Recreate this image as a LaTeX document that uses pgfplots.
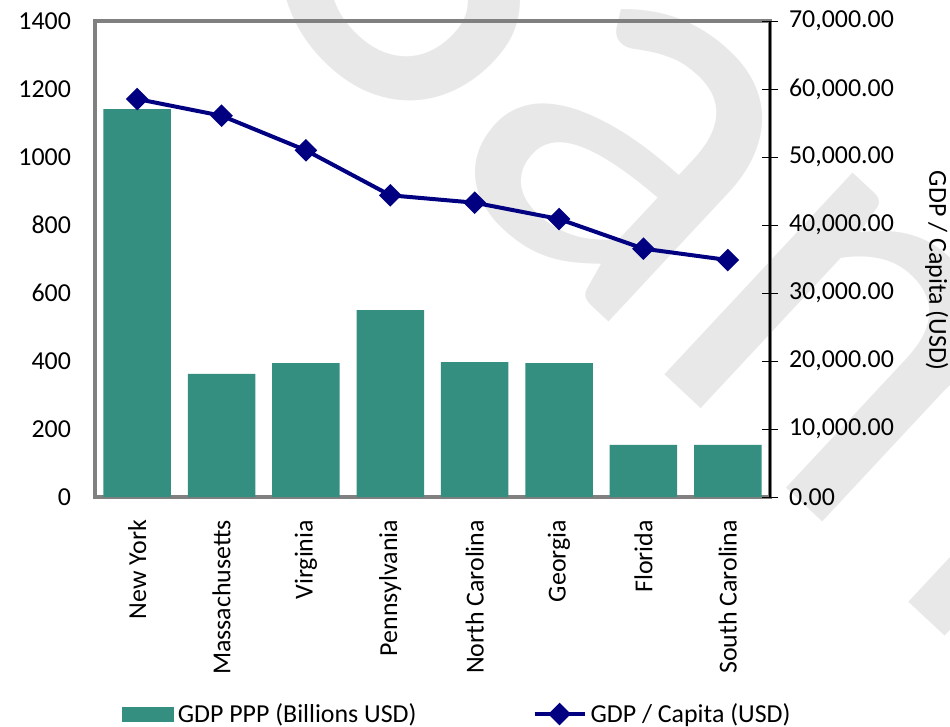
\documentclass[border=0pt]{standalone}
\usepackage{fontspec}
\setmainfont{Carlito}
\usepackage{pgfplots}
\pgfplotsset{compat=1.18}
\definecolor{barteal}{RGB}{52,143,128}
\definecolor{linenavy}{RGB}{0,0,128}
\definecolor{wm}{RGB}{232,232,232}
\definecolor{bordergray}{RGB}{128,128,128}
\begin{document}
\begin{tikzpicture}
\node[overlay, text=wm, rotate=-43, font=\fontsize{290}{300}\selectfont, inner sep=0pt] at (440bp,22bp) {Sample};
\begin{axis}[
  at={(0,0)}, anchor=south west,
  scale only axis, width=337.5bp, height=238bp,
  xmin=-0.5, xmax=7.5, ymin=0, ymax=1400,
  ytick={0,200,...,1400},
  xtick={0,...,7},
  xticklabels={New York,Massachusetts,Virginia,Pennsylvania,North Carolina,Georgia,Florida,South Carolina},
  font=\fontsize{13}{15}\selectfont,
  /pgf/number format/assume math mode=true,
  /pgf/number format/1000 sep={},
  xticklabel style={yshift=-8bp, rotate=90, anchor=east, font=\fontsize{13}{15}\selectfont},
  yticklabel style={xshift=-8.5bp, font=\fontsize{13}{15}\selectfont},
  axis line style={bordergray, line width=1.75bp},
  major tick length=0pt,
  ybar, bar width=0.8,
  legend style={at={(axis description cs:0.538,-0.456)}, anchor=center, draw=none, legend columns=2,
    font=\fontsize{13}{15}\selectfont, /tikz/every even column/.append style={column sep=56bp}},
  legend cell align=left,
]
\addplot[fill=barteal, draw=none,
  legend image code/.code={\fill[barteal] (0bp,-3.75bp) rectangle (26bp,3.75bp);}]
  coordinates {(0,1141) (1,362) (2,394) (3,550) (4,397) (5,394) (6,153) (7,153)};
\addlegendentry{GDP PPP (Billions USD)}
\addlegendimage{linenavy, line width=2bp,
  legend image code/.code={\draw[linenavy, line width=2bp] (0bp,0bp) -- (25bp,0bp);
    \fill[linenavy] (12.5bp,4.25bp) -- (16.75bp,0bp) -- (12.5bp,-4.25bp) -- (8.25bp,0bp) -- cycle;}}
\addlegendentry{GDP / Capita (USD)}
\end{axis}
\begin{axis}[
  at={(0,0)}, anchor=south west,
  scale only axis, width=337.5bp, height=238bp,
  xmin=-0.5, xmax=7.5, ymin=0, ymax=70000,
  axis y line*=right, axis x line=none,
  ytick={0,10000,...,70000},
  scaled y ticks=false,
  /pgf/number format/assume math mode=true,
  /pgf/number format/fixed, /pgf/number format/fixed zerofill, /pgf/number format/precision=2,
  /pgf/number format/1000 sep={,},
  yticklabel style={font=\fontsize{13}{15}\selectfont, xshift=2bp},
  axis line style={black, line width=0.75bp},
  tick style={black, line width=0.5bp},
  tick align=center, major tick length=8bp,
  ylabel={GDP / Capita (USD)},
  ylabel style={at={(axis description cs:1.247,0.475)}, anchor=center, rotate=180, font=\fontsize{13}{15}\selectfont},
]
\addplot[linenavy, line width=2bp, mark=square*, mark size=3bp, mark options={rotate=45}]
  coordinates {(0,58530) (1,56070) (2,50980) (3,44370) (4,43280) (5,40880) (6,36520) (7,34850)};
\end{axis}
\pgfresetboundingbox
\useasboundingbox (-47.5bp,-115bp) rectangle (427.5bp,248.5bp);
\end{tikzpicture}
\end{document}
